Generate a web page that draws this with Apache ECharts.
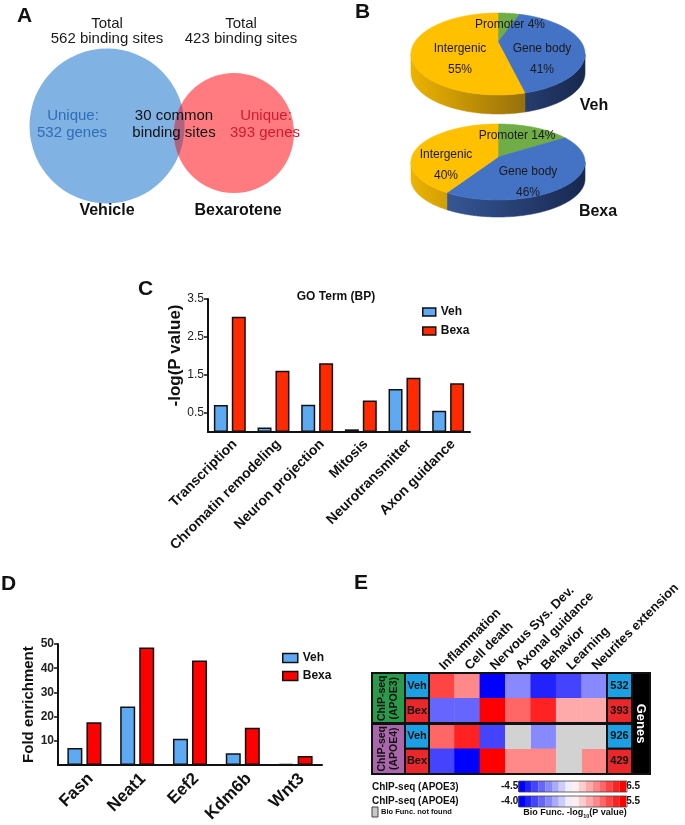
<!DOCTYPE html>
<html><head><meta charset="utf-8">
<script src="https://cdn.jsdelivr.net/npm/echarts@6/dist/echarts.min.js"></script>
<style>html,body{margin:0;padding:0;background:#fff}#c{width:685px;height:825px}</style>
</head><body><div id="c"></div>
<script>
// ================= DATA =================
const vennSets = ['Vehicle', 'Bexarotene'];
const vennTotals = [562, 423];
const vennUnique = [532, 393];
const vennCommon = 30;

const pieRegions = ['Promoter', 'Gene body', 'Intergenic'];
const vehShares = [4, 41, 55];
const bexaShares = [14, 46, 40];

const goTerms = ['Transcription', 'Chromatin remodeling', 'Neuron projection', 'Mitosis', 'Neurotransmitter', 'Axon guidance'];
const goVeh = [0.71, 0.12, 0.72, 0.07, 1.13, 0.56];
const goBexa = [3.03, 1.61, 1.81, 0.83, 1.43, 1.28];
const goTicks = [0.5, 1.5, 2.5, 3.5];

const genes = ['Fasn', 'Neat1', 'Eef2', 'Kdm6b', 'Wnt3'];
const foldVeh = [7.1, 24.2, 10.9, 4.9, 0.6];
const foldBexa = [17.7, 48.6, 43.2, 15.4, 3.8];
const foldTicks = [10, 20, 30, 40, 50];

const bioFunctions = ['Inflammation', 'Cell death', 'Nervous Sys. Dev.', 'Axonal guidance', 'Behavior', 'Learning', 'Neurites extension'];
const sampleGroups = ['ChIP-seq\n(APOE3)', 'ChIP-seq\n(APOE4)'];
const conditions = ['Veh', 'Bex', 'Veh', 'Bex'];
const heatRowNames = ['APOE3 Veh', 'APOE3 Bex', 'APOE4 Veh', 'APOE4 Bex'];
const apoe3Veh = [4.5, 3.5, -4.5, -1.5, -3.2, -2.6, -1.5];
const apoe3Bex = [-2.3, -2.3, 6.5, 3.8, 5.8, 2.6, 2.6];
const apoe4Veh = [3.6, 4.4, -2.7, null, -1.4, null, null];
const apoe4Bex = [-2.7, -4.0, 5.5, 2.7, 2.7, null, 3.1];
const geneCounts = [532, 393, 926, 429];
const scaleAPOE3 = [-4.5, 6.5];
const scaleAPOE4 = [-4.0, 5.5];

// ================= STYLE / LAYOUT =================
const FONT = '"Liberation Sans", Arial, Helvetica, sans-serif';
const INK = '#111';
const VEH_BLUE = '#5eaaf2';
const condFill = { Veh: '#1ca0e4', Bex: '#e8282b' };
const groupFill = ['#2c9a4b', '#a966aa'];
const pieColors = ['#70ad47', '#4472c4', '#ffc000'];
const pieSide = [
  ['#5f9a3a', '#3a6324'],
  ['#3d63a8', '#18284f'],
  ['#edb300', '#6a4d10']
];

const venn = {
  c: [[107, 126], [234, 133]], r: [77.5, 60],
  fill: ['#80b2e4', '#ff7b80'], lens: '#ad6480',
  uniqColor: ['#2f6db5', '#d31a2b'],
  totalPos: [[107, 24], [241, 24]],
  uniqPos: [[73, 116], [266, 116]],
  namePos: [[107, 211], [238, 211]],
  commonPos: [174, 116]
};

const pieLayout = {
  Veh: { cx: 498, cy: 54, rx: 87, ry: 41, depth: 19, apexDy: -12, title: 'Veh', titlePos: [594, 106],
         labels: [[510, 25, 1], [542, 49, 2], [460, 49, 2]] },
  Bexa: { cx: 498, cy: 162, rx: 87, ry: 38, depth: 17, apexDy: -5, title: 'Bexa', titlePos: [598, 212],
          labels: [[517, 136, 1], [528, 172, 2], [446, 155, 2]] }
};

// ================= HELPERS =================
function txt(text, x, y, opt) {
  return Object.assign({ type: 'text', z2: 20, style: Object.assign({
    text: text, x: x, y: y, fill: '#1a1a1a', fontFamily: FONT, fontSize: 14,
    align: 'center', verticalAlign: 'middle'
  }, opt || {}) });
}

function vennRender(params, api) {
  const i = params.dataIndex;
  const c = api.coord(venn.c[i]);
  const r = api.size([venn.r[i], 0])[0];
  const ch = [];
  ch.push({ type: 'circle', shape: { cx: c[0], cy: c[1], r: r }, style: { fill: venn.fill[i] }, z2: 1 + i });
  const tp = api.coord(venn.totalPos[i]);
  ch.push(txt('Total', tp[0], tp[1], { fontSize: 15 }));
  ch.push(txt(vennTotals[i] + ' binding sites', tp[0], tp[1] + 15, { fontSize: 15 }));
  const up = api.coord(venn.uniqPos[i]);
  ch.push(txt('Unique:', up[0], up[1], { fontSize: 15, fill: venn.uniqColor[i] }));
  ch.push(txt(vennUnique[i] + ' genes', up[0] - 1, up[1] + 17, { fontSize: 15, fill: venn.uniqColor[i] }));
  const np = api.coord(venn.namePos[i]);
  ch.push(txt(vennSets[i], np[0], np[1], { fontSize: 16, fontWeight: 'bold', fill: '#111' }));
  if (i === 1) {
    const c1 = api.coord(venn.c[0]), r1 = api.size([venn.r[0], 0])[0];
    const c2 = c, r2 = r;
    const phi = Math.atan2(c2[1] - c1[1], c2[0] - c1[0]);
    const pts = [];
    const N = 900;
    for (let k = 0; k <= N; k++) {
      const t = phi - Math.PI + 2 * Math.PI * k / N;
      const p = [c1[0] + r1 * Math.cos(t), c1[1] + r1 * Math.sin(t)];
      if (Math.hypot(p[0] - c2[0], p[1] - c2[1]) <= r2) pts.push(p);
    }
    for (let k = 0; k <= N; k++) {
      const t = phi + 2 * Math.PI * k / N;
      const p = [c2[0] + r2 * Math.cos(t), c2[1] + r2 * Math.sin(t)];
      if (Math.hypot(p[0] - c1[0], p[1] - c1[1]) <= r1) pts.push(p);
    }
    ch.push({ type: 'polygon', shape: { points: pts }, style: { fill: venn.lens }, z2: 5 });
    const cp = api.coord(venn.commonPos);
    ch.push(txt(vennCommon + ' common', cp[0], cp[1], { fontSize: 15, fill: '#111' }));
    ch.push(txt('binding sites', cp[0], cp[1] + 17, { fontSize: 15, fill: '#111' }));
  }
  return { type: 'group', children: ch };
}

function pieRender(shares, lay) {
  const total = shares.reduce((a, b) => a + b, 0);
  return function (params, api) {
    const i = params.dataIndex;
    let start = 0;
    for (let k = 0; k < i; k++) start += shares[k];
    const a0 = start / total * 2 * Math.PI;
    const a1 = (start + shares[i]) / total * 2 * Math.PI;
    const P = (t, dy) => api.coord([lay.cx + lay.rx * Math.sin(t), lay.cy - lay.ry * Math.cos(t) + (dy || 0)]);
    const ch = [];
    const s = Math.max(a0, Math.PI / 2), e = Math.min(a1, 3 * Math.PI / 2);
    const left = api.coord([lay.cx - lay.rx, lay.cy]), right = api.coord([lay.cx + lay.rx, lay.cy]);
    if (e > s) {
      const pts = [];
      const n = Math.max(2, Math.ceil((e - s) / 0.01));
      for (let k = 0; k <= n; k++) pts.push(P(s + (e - s) * k / n));
      for (let k = n; k >= 0; k--) pts.push(P(s + (e - s) * k / n, lay.depth));
      const grad = { type: 'linear', x: left[0], y: 0, x2: right[0], y2: 0, global: true,
        colorStops: [{ offset: 0, color: pieSide[i][0] }, { offset: 1, color: pieSide[i][1] }] };
      ch.push({ type: 'polygon', shape: { points: pts }, style: { fill: grad, stroke: grad, lineWidth: 0.6 }, z2: 1 });
    }
    const pts = [api.coord([lay.cx, lay.cy + lay.apexDy])];
    const n = Math.max(2, Math.ceil((a1 - a0) / 0.01));
    for (let k = 0; k <= n; k++) pts.push(P(a0 + (a1 - a0) * k / n));
    ch.push({ type: 'polygon', shape: { points: pts }, style: { fill: pieColors[i], stroke: pieColors[i], lineWidth: 0.6 }, z2: 2 });
    const lb = lay.labels[i];
    const lp = api.coord([lb[0], lb[1]]);
    if (lb[2] === 1) {
      ch.push(txt(pieRegions[i] + ' ' + shares[i] + '%', lp[0], lp[1], { fontSize: 12 }));
    } else {
      ch.push(txt(pieRegions[i], lp[0], lp[1], { fontSize: 12 }));
      ch.push(txt(shares[i] + '%', lp[0], lp[1] + 21, { fontSize: 12 }));
    }
    if (i === 0) {
      const tp = api.coord(lay.titlePos);
      ch.push(txt(lay.title, tp[0], tp[1], { fontSize: 16, fontWeight: 'bold', fill: '#111' }));
    }
    return { type: 'group', children: ch };
  };
}

function heatData(rows) {
  const src = [apoe3Veh, apoe3Bex, apoe4Veh, apoe4Bex];
  const out = [];
  rows.forEach(r => src[r].forEach((v, c) => { if (v !== null) out.push([c, r, v]); }));
  return out;
}
function missingData() {
  const src = [apoe3Veh, apoe3Bex, apoe4Veh, apoe4Bex];
  const out = [];
  src.forEach((row, r) => row.forEach((v, c) => { if (v === null) out.push([c, r, 0]); }));
  return out;
}

function cellRect(api, i, fill) {
  const c = api.coord([0, i]);
  const sz = api.size([1, 1]);
  return { type: 'rect', shape: { x: c[0] - sz[0] / 2, y: c[1] - sz[1] / 2, width: sz[0], height: sz[1] },
           style: { fill: fill, stroke: INK, lineWidth: 2 }, z2: 1 };
}

// ================= CHART =================
const chart = echarts.init(document.getElementById('c'), null, { renderer: 'canvas' });

const hiddenCat = (grid, data) => ({ gridIndex: grid, type: 'category', data: data, show: false });

const E = { top: 673, h: 101 };
const BAR = { left: 519, width: 108, h: 11, top: [781, 796] };

const option = {
  animation: false,
  backgroundColor: '#fff',
  textStyle: { fontFamily: FONT },
  grid: [
    { left: 0, top: 0, width: 685, height: 825, show: false },
    { left: 208, top: 299, width: 262, height: 133 },
    { left: 58, top: 644, width: 264, height: 133 },
    { left: 429, top: E.top, width: 178, height: E.h },
    { left: 372, top: E.top, width: 33, height: E.h },
    { left: 405, top: E.top, width: 24, height: E.h },
    { left: 607, top: E.top, width: 25, height: E.h }
  ],
  xAxis: [
    { gridIndex: 0, type: 'value', min: 0, max: 685, show: false },
    { gridIndex: 1, type: 'category', data: goTerms,
      axisLine: { lineStyle: { color: INK, width: 2 } },
      axisTick: { alignWithLabel: true, length: 5, lineStyle: { color: INK, width: 1.5 } },
      axisLabel: { rotate: 45, interval: 0, fontSize: 14, fontWeight: 'bold', color: INK, margin: 5,
                   verticalAlign: 'top', fontFamily: FONT } },
    { gridIndex: 2, type: 'category', data: genes,
      axisLine: { lineStyle: { color: INK, width: 2 } },
      axisTick: { alignWithLabel: true, length: 5, lineStyle: { color: INK, width: 1.5 } },
      axisLabel: { rotate: 45, interval: 0, fontSize: 17, fontWeight: 'bold', color: INK, margin: 5,
                   verticalAlign: 'top', fontFamily: FONT } },
    { gridIndex: 3, type: 'category', data: bioFunctions, position: 'top',
      axisLine: { show: false }, axisTick: { show: false },
      axisLabel: { rotate: -45, interval: 0, fontSize: 13, fontWeight: 'bold', color: INK, margin: 5, fontFamily: FONT } },
    hiddenCat(4, ['group']),
    hiddenCat(5, ['condition']),
    hiddenCat(6, ['genes'])
  ],
  yAxis: [
    { gridIndex: 0, type: 'value', min: 0, max: 825, inverse: true, show: false },
    { gridIndex: 1, type: 'value', min: 0, max: 3.5,
      axisLine: { show: true, lineStyle: { color: INK, width: 2 } },
      axisTick: { show: true, length: 4, lineStyle: { color: INK, width: 1.5 }, customValues: goTicks },
      axisLabel: { customValues: goTicks, fontSize: 12, color: '#222', margin: 4, fontFamily: FONT },
      splitLine: { show: false },
      name: '-log(P value)', nameLocation: 'middle', nameGap: 22,
      nameTextStyle: { fontSize: 17, fontWeight: 'bold', color: INK, fontFamily: FONT, padding: [0, 0, 0, 20] } },
    { gridIndex: 2, type: 'value', min: 0, max: 50,
      axisLine: { show: true, lineStyle: { color: INK, width: 2 } },
      axisTick: { show: true, length: 4, lineStyle: { color: INK, width: 1.5 }, customValues: foldTicks },
      axisLabel: { customValues: foldTicks, fontSize: 12, fontWeight: 'bold', color: '#222', margin: 4, fontFamily: FONT },
      splitLine: { show: false },
      name: 'Fold enrichment', nameLocation: 'middle', nameGap: 19,
      nameTextStyle: { fontSize: 15, fontWeight: 'bold', color: INK, fontFamily: FONT } },
    Object.assign(hiddenCat(3, heatRowNames), { inverse: true }),
    Object.assign(hiddenCat(4, sampleGroups), { inverse: true }),
    Object.assign(hiddenCat(5, heatRowNames), { inverse: true }),
    Object.assign(hiddenCat(6, heatRowNames), { inverse: true })
  ],
  legend: [
    { data: ['Veh', 'Bexa'], left: 422, top: 306, orient: 'vertical', icon: 'rect', padding: 0,
      itemWidth: 13, itemHeight: 8, itemGap: 7, selectedMode: false,
      itemStyle: { borderColor: INK, borderWidth: 1.5 },
      textStyle: { fontSize: 12, fontWeight: 'bold', color: INK, fontFamily: FONT } },
    { data: ['Veh', { name: 'Bexa', itemStyle: { color: '#ff0000' } }], left: 282, top: 652, orient: 'vertical', icon: 'rect', padding: 0,
      itemWidth: 15, itemHeight: 9, itemGap: 6, selectedMode: false,
      itemStyle: { borderColor: INK, borderWidth: 1.5 },
      textStyle: { fontSize: 12, fontWeight: 'bold', color: INK, fontFamily: FONT } }
  ],
  visualMap: [
    { type: 'piecewise', seriesIndex: 7, min: scaleAPOE3[0], max: scaleAPOE3[1], splitNumber: 16,
      orient: 'horizontal', left: 501, top: BAR.top[0], padding: 0, itemWidth: BAR.width / 16, itemHeight: BAR.h, itemGap: 0,
      itemSymbol: 'rect', text: [String(scaleAPOE3[1]), String(scaleAPOE3[0])], textGap: 3,
      hoverLink: false, selectedMode: false, inRange: { color: ['#0000ff', '#ffffff', '#ff0000'] },
      textStyle: { fontSize: 10, fontWeight: 'bold', color: INK, fontFamily: FONT } },
    { type: 'piecewise', seriesIndex: 8, min: scaleAPOE4[0], max: scaleAPOE4[1], splitNumber: 16,
      orient: 'horizontal', left: 501, top: BAR.top[1], padding: 0, itemWidth: BAR.width / 16, itemHeight: BAR.h, itemGap: 0,
      itemSymbol: 'rect', text: [String(scaleAPOE4[1]), scaleAPOE4[0].toFixed(1)], textGap: 3,
      hoverLink: false, selectedMode: false, inRange: { color: ['#0000ff', '#ffffff', '#ff0000'] },
      textStyle: { fontSize: 10, fontWeight: 'bold', color: INK, fontFamily: FONT } }
  ],
  series: [
    { type: 'custom', xAxisIndex: 0, yAxisIndex: 0, renderItem: vennRender, silent: true,
      data: vennSets.map((s, i) => ({ name: s, value: [i, vennTotals[i]] })) },
    { type: 'custom', xAxisIndex: 0, yAxisIndex: 0, renderItem: pieRender(vehShares, pieLayout.Veh), silent: true,
      data: vehShares.map((v, i) => ({ name: pieRegions[i], value: [i, v] })) },
    { type: 'custom', xAxisIndex: 0, yAxisIndex: 0, renderItem: pieRender(bexaShares, pieLayout.Bexa), silent: true,
      data: bexaShares.map((v, i) => ({ name: pieRegions[i], value: [i, v] })) },
    { type: 'bar', name: 'Veh', xAxisIndex: 1, yAxisIndex: 1, data: goVeh, barWidth: 14, barGap: '28%',
      itemStyle: { color: VEH_BLUE, borderColor: INK, borderWidth: 1.5 } },
    { type: 'bar', name: 'Bexa', xAxisIndex: 1, yAxisIndex: 1, data: goBexa, barWidth: 14, barGap: '28%',
      itemStyle: { color: '#ff2a00', borderColor: INK, borderWidth: 1.5 } },
    { type: 'bar', name: 'Veh', xAxisIndex: 2, yAxisIndex: 2, data: foldVeh, barWidth: 15, barGap: '27%',
      itemStyle: { color: VEH_BLUE, borderColor: INK, borderWidth: 1.5 } },
    { type: 'bar', name: 'Bexa', xAxisIndex: 2, yAxisIndex: 2, data: foldBexa, barWidth: 15, barGap: '27%',
      itemStyle: { color: '#ff0000', borderColor: INK, borderWidth: 1.5 } },
    { type: 'heatmap', name: 'APOE3', xAxisIndex: 3, yAxisIndex: 3, data: heatData([0, 1]), emphasis: { disabled: true } },
    { type: 'heatmap', name: 'APOE4', xAxisIndex: 3, yAxisIndex: 3, data: heatData([2, 3]), emphasis: { disabled: true } },
    { type: 'heatmap', name: 'not found', xAxisIndex: 3, yAxisIndex: 3, data: missingData(),
      itemStyle: { color: '#d2d2d2' }, emphasis: { disabled: true } },
    { type: 'custom', xAxisIndex: 4, yAxisIndex: 4, silent: true,
      data: sampleGroups.map((g, i) => ({ name: g, value: [0, i] })),
      renderItem: function (params, api) {
        const i = params.dataIndex;
        const c = api.coord([0, i]);
        return { type: 'group', children: [
          cellRect(api, i, groupFill[i]),
          { type: 'text', x: c[0], y: c[1], rotation: Math.PI / 2, z2: 5,
            style: { text: sampleGroups[i], x: 0, y: 0, align: 'center', verticalAlign: 'middle',
                     fontSize: 10.5, lineHeight: 12, fontWeight: 'bold', fill: INK, fontFamily: FONT } }
        ] };
      } },
    { type: 'custom', xAxisIndex: 5, yAxisIndex: 5, silent: true,
      data: conditions.map((c, i) => ({ name: c, value: [0, i] })),
      renderItem: function (params, api) {
        const i = params.dataIndex;
        const c = api.coord([0, i]);
        return { type: 'group', children: [
          cellRect(api, i, condFill[conditions[i]]),
          txt(conditions[i], c[0], c[1], { fontSize: 11, fontWeight: 'bold', fill: INK })
        ] };
      } },
    { type: 'custom', xAxisIndex: 6, yAxisIndex: 6, silent: true,
      data: geneCounts.map((n, i) => ({ name: heatRowNames[i], value: [0, i] })),
      renderItem: function (params, api) {
        const i = params.dataIndex;
        const c = api.coord([0, i]);
        return { type: 'group', children: [
          cellRect(api, i, condFill[conditions[i]]),
          txt(String(geneCounts[i]), c[0], c[1], { fontSize: 11, fontWeight: 'bold', fill: INK })
        ] };
      } }
  ],
  graphic: [
    { type: 'text', left: 17, top: 6, style: { text: 'A', fontSize: 21, fontWeight: 'bold', fill: INK, fontFamily: FONT } },
    { type: 'text', left: 355, top: 2, style: { text: 'B', fontSize: 21, fontWeight: 'bold', fill: INK, fontFamily: FONT } },
    { type: 'text', left: 138, top: 279, style: { text: 'C', fontSize: 21, fontWeight: 'bold', fill: INK, fontFamily: FONT } },
    { type: 'text', left: 1, top: 574, style: { text: 'D', fontSize: 21, fontWeight: 'bold', fill: INK, fontFamily: FONT } },
    { type: 'text', left: 354, top: 573, style: { text: 'E', fontSize: 21, fontWeight: 'bold', fill: INK, fontFamily: FONT } },
    { type: 'text', x: 336, y: 297, style: { text: 'GO Term (BP)', fontSize: 12, fontWeight: 'bold', fill: INK, fontFamily: FONT, align: 'center', verticalAlign: 'middle' } },
    { type: 'rect', shape: { x: 632, y: E.top, width: 18, height: E.h }, style: { fill: '#000' } },
    { type: 'text', x: 641, y: E.top + E.h / 2, rotation: -Math.PI / 2, z: 10,
      style: { text: 'Genes', fontSize: 13, fontWeight: 'bold', fill: '#fff', fontFamily: FONT, align: 'center', verticalAlign: 'middle' } },
    { type: 'rect', z: 10, shape: { x: 429, y: E.top, width: 178, height: E.h }, style: { fill: null, stroke: INK, lineWidth: 2 } },
    { type: 'rect', z: 10, shape: { x: 372, y: E.top, width: 278, height: E.h }, style: { fill: null, stroke: INK, lineWidth: 2 } },
    { type: 'line', z: 10, shape: { x1: 372, y1: E.top + E.h / 2, x2: 632, y2: E.top + E.h / 2 }, style: { stroke: INK, lineWidth: 3 } },
    { type: 'rect', z: 10, shape: { x: BAR.left, y: BAR.top[0], width: BAR.width, height: BAR.h }, style: { fill: null, stroke: '#444', lineWidth: 0.8 } },
    { type: 'rect', z: 10, shape: { x: BAR.left, y: BAR.top[1], width: BAR.width, height: BAR.h }, style: { fill: null, stroke: '#444', lineWidth: 0.8 } },
    { type: 'text', x: 372, y: 787, style: { text: 'ChIP-seq (APOE3)', fontSize: 10, fontWeight: 'bold', fill: INK, fontFamily: FONT, align: 'left', verticalAlign: 'middle' } },
    { type: 'text', x: 372, y: 801, style: { text: 'ChIP-seq (APOE4)', fontSize: 10, fontWeight: 'bold', fill: INK, fontFamily: FONT, align: 'left', verticalAlign: 'middle' } },
    { type: 'rect', shape: { x: 372, y: 807, width: 6, height: 10 }, style: { fill: '#c8c8c8', stroke: '#444', lineWidth: 1 } },
    { type: 'text', x: 381, y: 812, style: { text: 'Bio Func. not found', fontSize: 7.5, fontWeight: 'bold', fill: INK, fontFamily: FONT, align: 'left', verticalAlign: 'middle' } },
    { type: 'text', x: 575, y: 813, style: {
        text: '{a|Bio Func. -log}{s|10}{a|(P value)}', align: 'center', verticalAlign: 'middle',
        rich: { a: { fontSize: 9, fontWeight: 'bold', fill: INK, fontFamily: FONT, lineHeight: 12, verticalAlign: 'middle' },
                s: { fontSize: 5.5, fontWeight: 'bold', fill: INK, fontFamily: FONT, lineHeight: 12, verticalAlign: 'bottom' } } } }
  ]
};
chart.setOption(option);
</script>
</body></html>
